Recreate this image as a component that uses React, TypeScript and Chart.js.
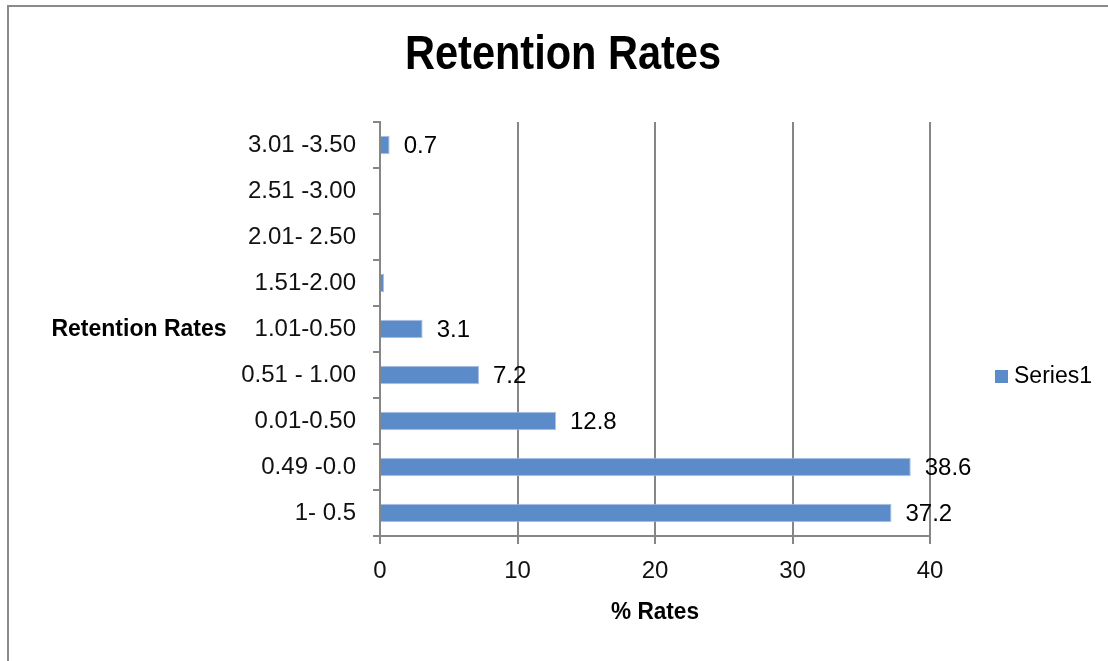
import React, { useEffect, useRef } from "react";
import { Chart, registerables } from "chart.js";

Chart.register(...registerables);

const categories = ["3.01 -3.50", "2.51 -3.00", "2.01- 2.50", "1.51-2.00", "1.01-0.50", "0.51 - 1.00", "0.01-0.50", "0.49 -0.0", "1- 0.5"];
const values: (number | null)[] = [0.7, null, null, 0.3, 3.1, 7.2, 12.8, 38.6, 37.2];
const labelShown = [true, false, false, false, true, true, true, true, true];
const xTicks = [0, 10, 20, 30, 40];
const seriesName = "Series1";
const titleText = "Retention Rates";
const yTitleText = "Retention Rates";
const xTitleText = "% Rates";

const FONT = "'Liberation Sans Narrow', 'Arial Narrow', 'Liberation Sans', sans-serif";
const GRID = "#868686";
const BAR = "#5B8CC9";

function fitText(ctx: any, text: string, cx: number, cy: number, targetW: number) {
  const w = ctx.measureText(text).width;
  const sx = Math.min(1, targetW / w);
  ctx.save();
  ctx.translate(cx, cy);
  ctx.scale(sx, 1);
  ctx.textAlign = "center";
  ctx.fillText(text, 0, 0);
  ctx.restore();
}

const decorPlugin = {
  id: "decor",
  beforeDraw(chart: any) {
    const ctx = chart.ctx;
    ctx.save();
    ctx.fillStyle = "#fff";
    ctx.fillRect(0, 0, chart.width, chart.height);
    ctx.strokeStyle = "#8a8a8a";
    ctx.lineWidth = 2;
    ctx.beginPath();
    ctx.moveTo(8, chart.height);
    ctx.lineTo(8, 6);
    ctx.lineTo(chart.width, 6);
    ctx.stroke();
    ctx.restore();
  },
  afterDraw(chart: any) {
    const ctx = chart.ctx;
    const ca = chart.chartArea;
    ctx.save();
    ctx.fillStyle = "#000";
    ctx.textBaseline = "middle";
    ctx.font = `bold 48px ${FONT}`;
    fitText(ctx, titleText, 563, 56, 316);
    ctx.font = `bold 23px ${FONT}`;
    fitText(ctx, xTitleText, (ca.left + ca.right) / 2, 613, 88);
    fitText(ctx, yTitleText, 139, 330, 178);
    // legend
    ctx.fillStyle = BAR;
    ctx.fillRect(995, 370, 13, 13);
    ctx.fillStyle = "#000";
    ctx.textAlign = "left";
    ctx.font = `23px ${FONT}`;
    ctx.fillText(seriesName, 1014, 377);
    // data labels
    ctx.font = `24px ${FONT}`;
    const meta = chart.getDatasetMeta(0);
    meta.data.forEach((bar: any, i: number) => {
      if (!labelShown[i] || values[i] == null) return;
      ctx.fillText(String(values[i]), bar.x + 14, bar.y + 1);
    });
    ctx.restore();
  },
};

export default function App() {
  const ref = useRef<HTMLCanvasElement>(null);
  useEffect(() => {
    document.body.style.margin = "0";
    const chart = new Chart(ref.current!, {
      type: "bar",
      data: {
        labels: categories,
        datasets: [
          {
            label: seriesName,
            data: values,
            backgroundColor: BAR,
            borderColor: "#A9C1E2",
            borderWidth: 1,
            barPercentage: 0.4,
            categoryPercentage: 1,
          },
        ],
      },
      options: {
        indexAxis: "y",
        animation: false,
        responsive: false,
        layout: { padding: { top: 122, right: 178, left: 0, bottom: 0 } },
        plugins: { legend: { display: false }, title: { display: false }, tooltip: { enabled: false } },
        scales: {
          x: {
            min: 0,
            max: 40,
            afterBuildTicks: (s: any) => {
              s.ticks = xTicks.map((v) => ({ value: v }));
            },
            afterFit: (s: any) => {
              s.height = 125;
            },
            grid: { color: GRID, lineWidth: 2, tickLength: 8, drawTicks: true },
            border: { color: GRID, width: 2 },
            ticks: { color: "#111", font: { family: FONT, size: 24 }, padding: 13 },
          },
          y: {
            afterFit: (s: any) => {
              s.width = 380;
            },
            grid: { drawOnChartArea: false, color: GRID, lineWidth: 2, tickLength: 7 },
            border: { color: GRID, width: 2 },
            ticks: { color: "#111", font: { family: FONT, size: 24 }, padding: 17 },
          },
        },
      },
      plugins: [decorPlugin],
    });
    return () => chart.destroy();
  }, []);
  return <canvas ref={ref} width={1108} height={661} style={{ display: "block" }} />;
}
